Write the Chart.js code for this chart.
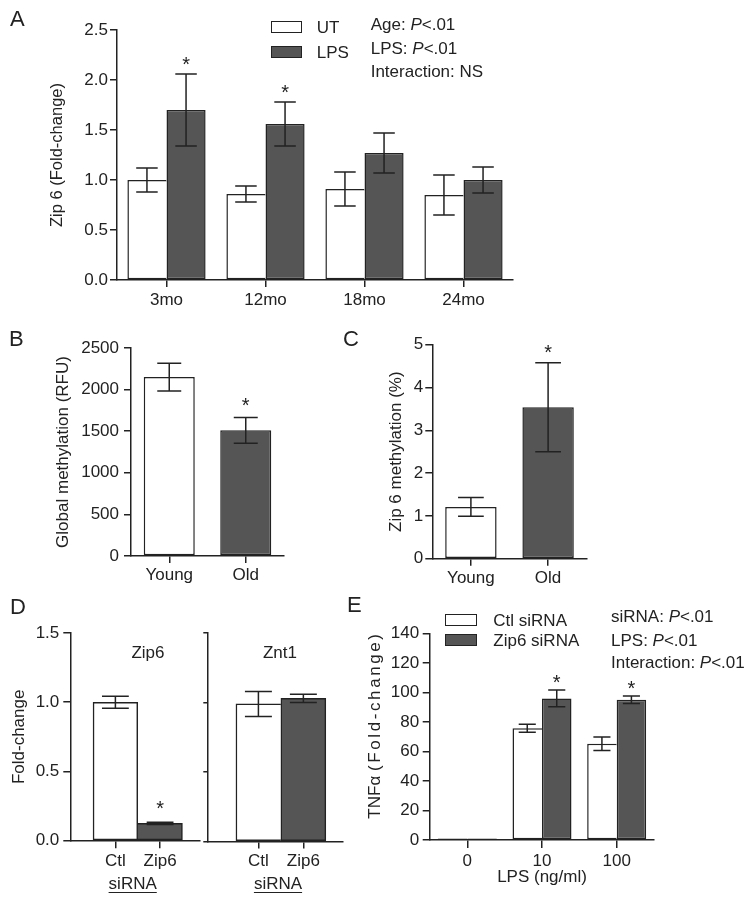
<!DOCTYPE html>
<html><head><meta charset="utf-8">
<script src="https://cdn.jsdelivr.net/npm/chart.js@4.4.1/dist/chart.umd.min.js"></script>
<style>
html,body{margin:0;padding:0;background:#fff;}
#wrap{position:relative;width:754px;height:904px;overflow:hidden;font-family:"Liberation Sans",Arial,sans-serif;color:#222;}
canvas{position:absolute;left:0;top:0;}
.t{position:absolute;font-size:17px;line-height:1;white-space:nowrap;}
.L{position:absolute;font-size:22px;line-height:1;}
.box{position:absolute;box-sizing:border-box;border:1.5px solid #222;}
.c{transform:translateX(-50%);}
.u{text-decoration:underline;text-underline-offset:3px;text-decoration-thickness:1px;}
.rot{transform:translate(-50%,-50%) rotate(-90deg);}
</style></head><body><div id="wrap">
<canvas id="cA" width="754" height="904"></canvas>
<canvas id="cB" width="754" height="904"></canvas>
<canvas id="cC" width="754" height="904"></canvas>
<canvas id="cD1" width="754" height="904"></canvas>
<canvas id="cD2" width="754" height="904"></canvas>
<canvas id="cE" width="754" height="904"></canvas>

<div class="L" style="left:10px;top:8.4px">A</div>
<div class="L" style="left:9px;top:328.4px">B</div>
<div class="L" style="left:343px;top:328.4px">C</div>
<div class="L" style="left:10px;top:596.4px">D</div>
<div class="L" style="left:347px;top:594.4px">E</div>

<div class="box" style="left:271px;top:20.7px;width:31px;height:12.5px;background:#fff"></div>
<div class="box" style="left:271px;top:45.7px;width:31px;height:12.5px;background:#555"></div>
<div class="t" style="left:316.7px;top:19px">UT</div>
<div class="t" style="left:316.7px;top:44.4px">LPS</div>
<div class="t" style="left:370.7px;top:15.9px">Age: <i>P</i>&lt;.01</div>
<div class="t" style="left:370.7px;top:40.2px">LPS: <i>P</i>&lt;.01</div>
<div class="t" style="left:370.7px;top:63.4px">Interaction: NS</div>

<div class="t c" style="left:148px;top:644.2px">Zip6</div>
<div class="t c" style="left:280px;top:644.2px">Znt1</div>
<div class="t c u" style="left:132.7px;top:874.6px">siRNA</div>
<div class="t c u" style="left:278px;top:874.6px">siRNA</div>

<div class="t rot" style="left:374px;top:725px">TNFα <span style="letter-spacing:2.6px">(Fold-change)</span></div>

<div class="box" style="left:445px;top:614px;width:31.7px;height:11.5px;background:#fff"></div>
<div class="box" style="left:445px;top:634.3px;width:31.7px;height:11.5px;background:#555"></div>
<div class="t" style="left:493.3px;top:611.5px">Ctl siRNA</div>
<div class="t" style="left:493.3px;top:631.9px">Zip6 siRNA</div>
<div class="t" style="left:611px;top:608.2px">siRNA: <i>P</i>&lt;.01</div>
<div class="t" style="left:611px;top:631.5px">LPS: <i>P</i>&lt;.01</div>
<div class="t" style="left:611px;top:654.2px">Interaction: <i>P</i>&lt;.01</div>
</div>
<script>
// ---------- DATA ----------
// Panel A
const aCategories = ['3mo', '12mo', '18mo', '24mo'];
const aUT = [1.00, 0.86, 0.91, 0.85];
const aUTErr = [0.12, 0.08, 0.17, 0.20];
const aLPS = [1.70, 1.56, 1.27, 1.00];
const aLPSErr = [0.36, 0.22, 0.20, 0.13];
const aLPSStar = [true, true, false, false];
const aYRange = [0, 2.5, 0.5];
// Panel B
const bCategories = ['Young', 'Old'];
const bValues = [2150, 1510];
const bErr = [168, 154];
const bStar = [false, true];
const bYRange = [0, 2500, 500];
// Panel C
const cCategories = ['Young', 'Old'];
const cValues = [1.21, 3.54];
const cErr = [0.22, 1.04];
const cStar = [false, true];
const cYRange = [0, 5, 1];
// Panel D
const dLabels = ['Ctl', 'Zip6'];
const dZip6 = [1.00, 0.125];
const dZip6Err = [0.044, 0.008];
const dZip6Star = [false, true];
const dZnt1 = [0.99, 1.03];
const dZnt1Err = [0.09, 0.03];
const dYRange = [0, 1.5, 0.5];
// Panel E
const eCategories = ['0', '10', '100'];
const eCtl = [1, 75.7, 65.2];
const eCtlErr = [0, 2.7, 4.6];
const eZip6 = [1, 95.9, 95.0];
const eZip6Err = [0, 5.7, 2.6];
const eZip6Star = [false, true, true];
const eYRange = [0, 140, 20];

// ---------- STYLE ----------
const INK = '#222222';
const DARK = '#555555';
const WHITE = '#ffffff';
const FONT = '"Liberation Sans", Arial, sans-serif';
Chart.defaults.font.family = FONT;
Chart.defaults.font.size = 17;
Chart.defaults.color = INK;
Chart.defaults.animation = false;

const errPlugin = {
  id: 'errbars',
  afterDatasetsDraw(chart, args, opts) {
    const ctx = chart.ctx;
    const ys = chart.scales.y;
    (opts.sets || []).forEach((set, di) => {
      const meta = chart.getDatasetMeta(di);
      meta.data.forEach((bar, i) => {
        const p = bar.getProps(['x', 'width'], true);
        const v = set.values[i], e = set.err[i];
        const top = ys.getPixelForValue(v + e);
        const bot = ys.getPixelForValue(v - e);
        const half = p.width * (opts.capFrac || 0.55) / 2;
        ctx.save();
        ctx.strokeStyle = INK; ctx.lineWidth = 1.5;
        if (e > 0) {
          ctx.beginPath();
          ctx.moveTo(p.x, top); ctx.lineTo(p.x, bot);
          ctx.moveTo(p.x - half, top); ctx.lineTo(p.x + half, top);
          ctx.moveTo(p.x - half, bot); ctx.lineTo(p.x + half, bot);
          ctx.stroke();
        }
        if (set.star && set.star[i]) {
          ctx.fillStyle = INK;
          ctx.font = '20px ' + FONT;
          ctx.textAlign = 'center';
          ctx.textBaseline = 'alphabetic';
          ctx.fillText('*', p.x, top - opts.starOffset + 8.5);
        }
        ctx.restore();
      });
    });
  }
};
Chart.register(errPlugin);

function groupedBorder(c) {
  const w = {top: 1.5, bottom: 1.5, left: 1.5, right: 1.5};
  if (c.dataIndex === undefined) return w;
  const ds = c.chart.data.datasets;
  const me = ds[c.datasetIndex].data[c.dataIndex];
  const other = ds[1 - c.datasetIndex].data[c.dataIndex];
  if (c.datasetIndex === 0 && me < other) w.right = 0;
  if (c.datasetIndex === 1 && me <= other) w.left = 0;
  return w;
}
function pairBorder(c) {
  const w = {top: 1.5, bottom: 1.5, left: 1.5, right: 1.5};
  if (c.dataIndex === undefined) return w;
  const d = c.dataset.data;
  const me = d[c.dataIndex].y, other = d[1 - c.dataIndex].y;
  if (c.dataIndex === 0 && me < other) w.right = 0;
  if (c.dataIndex === 1 && me <= other) w.left = 0;
  return w;
}

function yAxis(o) {
  return {
    type: 'linear', min: o.range[0], max: o.range[1],
    ticks: {stepSize: o.range[2], padding: o.tickPad, display: o.labels !== false,
            callback: o.fmt || (v => v)},
    grid: {drawOnChartArea: false, tickLength: o.tickLen, color: INK, lineWidth: 1.5},
    border: {color: INK, width: 1.5},
    title: {display: !!o.title, text: o.title || '', padding: 0, font: {size: o.titleSize || 17}},
    afterFit: s => { s.width = o.width; }
  };
}
function xCat(o) {
  return {
    type: 'category', offset: true,
    ticks: {padding: o.tickPad, maxRotation: 0, autoSkip: false},
    grid: {drawOnChartArea: false, offset: false, tickLength: o.tickLen, color: INK, lineWidth: 1.5},
    border: {color: INK, width: 1.5},
    title: {display: !!o.title, text: o.title || '', padding: 0},
    afterFit: s => { s.height = o.height; }
  };
}
function xLin(o) {
  return {
    type: 'linear', min: o.min, max: o.max, offset: false,
    afterBuildTicks: s => { s.ticks = dLabels.map((_, i) => ({value: i + 1})); },
    ticks: {padding: o.tickPad, maxRotation: 0, autoSkip: false, callback: v => dLabels[v - 1] || ''},
    grid: {drawOnChartArea: false, offset: false, tickLength: o.tickLen, color: INK, lineWidth: 1.5},
    border: {color: INK, width: 1.5},
    afterFit: s => { s.height = o.height; }
  };
}
function pad(area, yW, xH) {
  return {left: area.l - yW, top: area.t, right: 754 - area.r, bottom: 904 - area.b - xH};
}
function base(area, yW, xH, scales, plug) {
  return {
    responsive: false, animation: false, events: [],
    layout: {padding: pad(area, yW, xH)},
    plugins: {legend: {display: false}, tooltip: {enabled: false}, errbars: plug},
    scales: scales
  };
}

// ---------- Panel A ----------
(function () {
  const area = {l: 117, t: 30, r: 513, b: 280};
  const yW = 69.9, xH = 40;
  new Chart(document.getElementById('cA'), {
    type: 'bar',
    data: {labels: aCategories, datasets: [
      {label: 'UT', data: aUT, backgroundColor: WHITE},
      {label: 'LPS', data: aLPS, backgroundColor: DARK}
    ].map(d => Object.assign(d, {borderColor: INK, borderWidth: groupedBorder, borderSkipped: false,
                                  categoryPercentage: 0.79, barPercentage: 1}))},
    options: base(area, yW, xH, {
      x: xCat({tickPad: 3, tickLen: 7, height: xH}),
      y: yAxis({range: aYRange, tickPad: 2, tickLen: 7, width: yW, title: 'Zip 6 (Fold-change)',
                titleSize: 16.5, fmt: v => v.toFixed(1)})
    }, {starOffset: 12, capFrac: 0.55,
        sets: [{values: aUT, err: aUTErr}, {values: aLPS, err: aLPSErr, star: aLPSStar}]})
  });
})();

// ---------- Panel B ----------
(function () {
  const area = {l: 131, t: 348, r: 284, b: 556};
  const yW = 77.9, xH = 40;
  new Chart(document.getElementById('cB'), {
    type: 'bar',
    data: {labels: bCategories, datasets: [
      {data: bValues, backgroundColor: [WHITE, DARK], borderColor: INK, borderWidth: 1.5,
       borderSkipped: false, categoryPercentage: 0.667, barPercentage: 1}
    ]},
    options: base(area, yW, xH, {
      x: xCat({tickPad: 2, tickLen: 7, height: xH}),
      y: yAxis({range: bYRange, tickPad: 5, tickLen: 7, width: yW, title: 'Global methylation (RFU)'})
    }, {starOffset: 14.5, capFrac: 0.47, sets: [{values: bValues, err: bErr, star: bStar}]})
  });
})();

// ---------- Panel C ----------
(function () {
  const area = {l: 432.3, t: 344.7, r: 586.7, b: 558.7};
  const yW = 46.5, xH = 40;
  new Chart(document.getElementById('cC'), {
    type: 'bar',
    data: {labels: cCategories, datasets: [
      {data: cValues, backgroundColor: [WHITE, DARK], borderColor: INK, borderWidth: 1.5,
       borderSkipped: false, categoryPercentage: 0.666, barPercentage: 1}
    ]},
    options: base(area, yW, xH, {
      x: xCat({tickPad: 2, tickLen: 7, height: xH}),
      y: yAxis({range: cYRange, tickPad: 2, tickLen: 7, width: yW, title: 'Zip 6 methylation (%)'})
    }, {starOffset: 12.5, capFrac: 0.5, sets: [{values: cValues, err: cErr, star: cStar}]})
  });
})();

// ---------- Panel D (Zip6) ----------
(function () {
  const area = {l: 70.7, t: 633, r: 200, b: 840.7};
  const yW = 61.9, xH = 40;
  new Chart(document.getElementById('cD1'), {
    type: 'bar',
    data: {datasets: [
      {data: dLabels.map((l, i) => ({x: i + 1, y: dZip6[i]})), backgroundColor: [WHITE, DARK],
       borderColor: INK, borderWidth: pairBorder, borderSkipped: false,
       categoryPercentage: 1, barPercentage: 1}
    ]},
    options: base(area, yW, xH, {
      x: xLin({min: 0, max: 2.893, tickPad: 3, tickLen: 7.5, height: xH}),
      y: yAxis({range: dYRange, tickPad: 4, tickLen: 7.4, width: yW, title: 'Fold-change',
                fmt: v => v.toFixed(1)})
    }, {starOffset: 15.5, capFrac: 0.6, sets: [{values: dZip6, err: dZip6Err, star: dZip6Star}]})
  });
})();

// ---------- Panel D (Znt1) ----------
(function () {
  const area = {l: 207.3, t: 633, r: 342.7, b: 841.5};
  const yW = 10, xH = 40;
  new Chart(document.getElementById('cD2'), {
    type: 'bar',
    data: {datasets: [
      {data: dLabels.map((l, i) => ({x: i + 1, y: dZnt1[i]})), backgroundColor: [WHITE, DARK],
       borderColor: INK, borderWidth: pairBorder, borderSkipped: false,
       categoryPercentage: 1, barPercentage: 1}
    ]},
    options: base(area, yW, xH, {
      x: xLin({min: -0.137, max: 2.875, tickPad: 3, tickLen: 7, height: xH}),
      y: yAxis({range: dYRange, tickPad: 2, tickLen: 4, width: yW, labels: false})
    }, {starOffset: 15.5, capFrac: 0.6, sets: [{values: dZnt1, err: dZnt1Err}]})
  });
})();

// ---------- Panel E ----------
(function () {
  const area = {l: 430, t: 633.3, r: 654, b: 840};
  const yW = 66.2, xH = 47.2;
  new Chart(document.getElementById('cE'), {
    type: 'bar',
    data: {labels: eCategories, datasets: [
      {label: 'Ctl siRNA', data: eCtl, backgroundColor: WHITE},
      {label: 'Zip6 siRNA', data: eZip6, backgroundColor: DARK}
    ].map(d => Object.assign(d, {borderColor: INK, borderWidth: groupedBorder, borderSkipped: false,
                                  categoryPercentage: 0.79, barPercentage: 1}))},
    options: base(area, yW, xH, {
      x: xCat({tickPad: 3, tickLen: 8, height: xH, title: 'LPS (ng/ml)'}),
      y: yAxis({range: eYRange, tickPad: 3.5, tickLen: 7.3, width: yW})
    }, {starOffset: 9.5, capFrac: 0.58,
        sets: [{values: eCtl, err: eCtlErr}, {values: eZip6, err: eZip6Err, star: eZip6Star}]})
  });
})();
</script>
</body></html>
